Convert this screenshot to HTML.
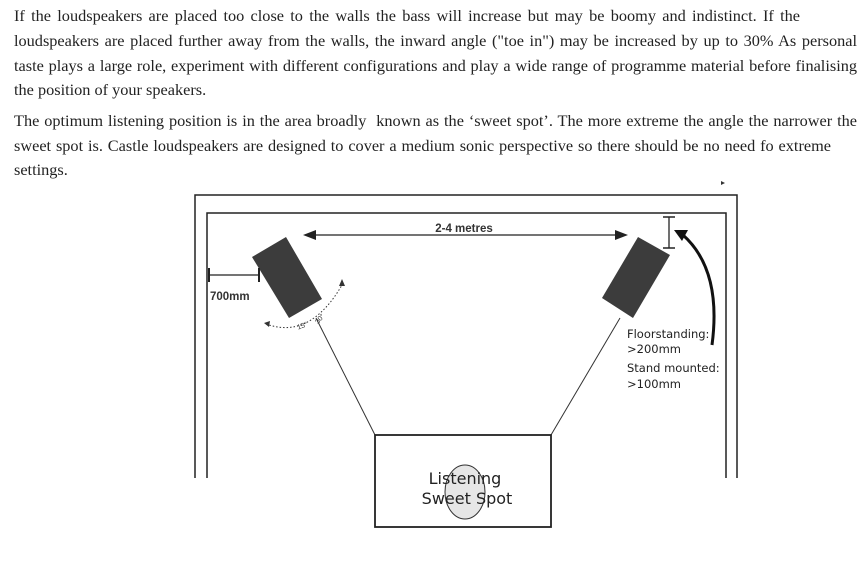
<!DOCTYPE html>
<html><head><style>
body{margin:0;width:863px;height:578px;background:#fff;position:relative;overflow:hidden}
.t{position:absolute;left:14px;font-family:"Liberation Serif",serif;font-size:16.3px;color:#222;white-space:nowrap}
.j{text-align:justify;text-align-last:justify}
svg{position:absolute;left:0;top:0}
</style></head><body>
<div class="t j" style="top:6px;width:786px">If the loudspeakers are placed too close to the walls the bass will increase but may be boomy and indistinct. If the</div>
<div class="t j" style="top:31px;width:843px">loudspeakers are placed further away from the walls, the inward angle ("toe in") may be increased by up to 30% As personal</div>
<div class="t j" style="top:56px;width:843px">taste plays a large role, experiment with different configurations and play a wide range of programme material before finalising</div>
<div class="t" style="top:80px">the position of your speakers.</div>
<div class="t j" style="top:111px;width:843px">The optimum listening position is in the area broadly&nbsp; known as the ‘sweet spot’. The more extreme the angle the narrower the</div>
<div class="t j" style="top:136px;width:817px">sweet spot is. Castle loudspeakers are designed to cover a medium sonic perspective so there should be no need fo extreme</div>
<div class="t" style="top:160px">settings.</div>
<svg width="863" height="578" font-family="Liberation Sans,sans-serif">
<polyline points="195,478 195,195 737,195 737,478" fill="none" stroke="#222" stroke-width="1.5"/>
<polyline points="207,478 207,213 726,213 726,478" fill="none" stroke="#222" stroke-width="1.5"/>
<polygon points="252,257 286,237 322,299 289,318" fill="#3c3c3c"/>
<polygon points="638,237 670,255 633,318 602,298" fill="#3c3c3c"/>
<line x1="312" y1="235" x2="617" y2="235" stroke="#222" stroke-width="1.3"/>
<polygon points="303,235 316,230 316,240" fill="#222"/>
<polygon points="628,235 615,230 615,240" fill="#222"/>
<text x="464" y="232" font-size="11.5" font-weight="bold" text-anchor="middle" fill="#333">2-4 metres</text>
<line x1="209" y1="275" x2="259" y2="275" stroke="#222" stroke-width="1.3"/>
<line x1="209" y1="268" x2="209" y2="282" stroke="#222" stroke-width="2"/>
<line x1="259" y1="268" x2="259" y2="282" stroke="#222" stroke-width="2"/>
<text x="210" y="300" font-size="11.5" font-weight="bold" fill="#333">700mm</text>
<path d="M266,324 Q310,340 342,285" fill="none" stroke="#333" stroke-width="1" stroke-dasharray="1.5,2"/>
<polygon points="264,323 270,321 269,327" fill="#333"/>
<polygon points="342,279 339,286 345,286" fill="#333"/>
<text x="298" y="329" font-size="7" fill="#333" transform="rotate(-20 300 329)">15°</text>
<text x="317" y="322" font-size="7" fill="#333" transform="rotate(-50 320 322)">30°</text>
<line x1="316" y1="318" x2="375" y2="435" stroke="#333" stroke-width="1"/>
<line x1="620" y1="318" x2="551" y2="435" stroke="#333" stroke-width="1"/>
<rect x="375" y="435" width="176" height="92" fill="none" stroke="#222" stroke-width="1.8"/>
<ellipse cx="465" cy="492" rx="20" ry="27" fill="#e6e6e6" stroke="#333" stroke-width="1"/>
<text x="465" y="484" font-size="16" text-anchor="middle" fill="#222" font-family="DejaVu Sans,sans-serif">Listening</text>
<text x="467" y="504" font-size="16" text-anchor="middle" fill="#222" font-family="DejaVu Sans,sans-serif">Sweet Spot</text>
<line x1="669" y1="217" x2="669" y2="248" stroke="#222" stroke-width="1.3"/>
<line x1="663" y1="217" x2="675" y2="217" stroke="#222" stroke-width="1.5"/>
<line x1="663" y1="248" x2="675" y2="248" stroke="#222" stroke-width="1.5"/>
<path d="M712,345 Q722,270 683,235" fill="none" stroke="#111" stroke-width="3"/>
<polygon points="674,230 688,230 682,241" fill="#111"/>
<g font-size="11.5" fill="#222" font-family="DejaVu Sans,sans-serif">
<text x="627" y="338">Floorstanding:</text>
<text x="627" y="353">&gt;200mm</text>
<text x="627" y="372">Stand mounted:</text>
<text x="627" y="388">&gt;100mm</text>
</g>
<polygon points="721,181 725,183 721,185" fill="#333"/>
</svg>
</body></html>
